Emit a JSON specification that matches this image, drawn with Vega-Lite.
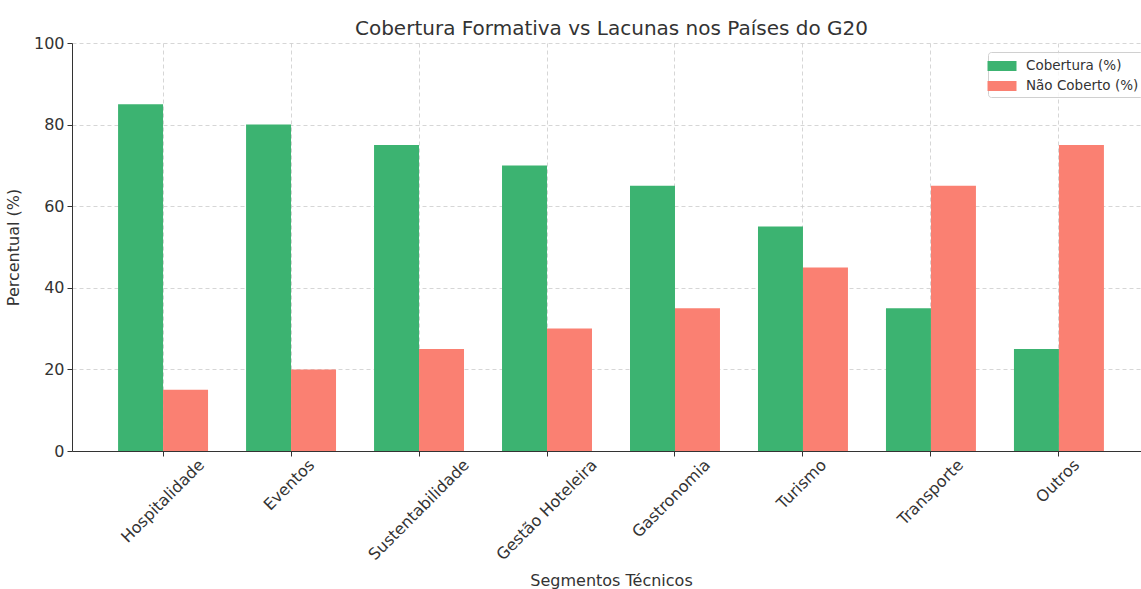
{
  "$schema": "https://vega.github.io/schema/vega-lite/v6.json",
  "width": 1069,
  "height": 408,
  "autosize": {"type": "none"},
  "padding": {"left": 72, "top": 43, "right": 0, "bottom": 138},
  "background": "white",
  "config": {
    "view": {"stroke": null},
    "font": "DejaVu Sans",
    "axis": {
      "labelFont": "DejaVu Sans",
      "titleFont": "DejaVu Sans",
      "labelColor": "#333333",
      "titleColor": "#333333",
      "domainColor": "#333333",
      "tickColor": "#333333",
      "gridColor": "#cccccc",
      "gridDash": [4, 3],
      "gridWidth": 0.8,
      "tickSize": 5,
      "labelFontSize": 16,
      "titleFontSize": 16,
      "titleFontWeight": "normal"
    }
  },
  "title": {
    "text": "Cobertura Formativa vs Lacunas nos Países do G20",
    "fontSize": 20,
    "fontWeight": "normal",
    "color": "#333333",
    "font": "DejaVu Sans",
    "anchor": "middle",
    "offset": -4,
    "dx": 5
  },
  "data": {
    "values": [
      {"segmento": "Hospitalidade", "serie": "Cobertura (%)", "valor": 85},
      {"segmento": "Hospitalidade", "serie": "Não Coberto (%)", "valor": 15},
      {"segmento": "Eventos", "serie": "Cobertura (%)", "valor": 80},
      {"segmento": "Eventos", "serie": "Não Coberto (%)", "valor": 20},
      {"segmento": "Sustentabilidade", "serie": "Cobertura (%)", "valor": 75},
      {"segmento": "Sustentabilidade", "serie": "Não Coberto (%)", "valor": 25},
      {"segmento": "Gestão Hoteleira", "serie": "Cobertura (%)", "valor": 70},
      {"segmento": "Gestão Hoteleira", "serie": "Não Coberto (%)", "valor": 30},
      {"segmento": "Gastronomia", "serie": "Cobertura (%)", "valor": 65},
      {"segmento": "Gastronomia", "serie": "Não Coberto (%)", "valor": 35},
      {"segmento": "Turismo", "serie": "Cobertura (%)", "valor": 55},
      {"segmento": "Turismo", "serie": "Não Coberto (%)", "valor": 45},
      {"segmento": "Transporte", "serie": "Cobertura (%)", "valor": 35},
      {"segmento": "Transporte", "serie": "Não Coberto (%)", "valor": 65},
      {"segmento": "Outros", "serie": "Cobertura (%)", "valor": 25},
      {"segmento": "Outros", "serie": "Não Coberto (%)", "valor": 75}
    ]
  },
  "mark": {"type": "bar"},
  "encoding": {
    "x": {
      "field": "segmento",
      "type": "nominal",
      "sort": ["Hospitalidade", "Eventos", "Sustentabilidade", "Gestão Hoteleira", "Gastronomia", "Turismo", "Transporte", "Outros"],
      "scale": {"range": [0, 1078], "paddingInner": 0.297, "paddingOuter": 0.36},
      "axis": {
        "title": "Segmentos Técnicos",
        "labelAngle": -45,
        "labelAlign": "right",
        "labelBaseline": "middle",
        "labelPadding": 6,
        "titlePadding": 10,
        "grid": true,
        "encoding": {
          "labels": {
            "dx": {"value": {"expr": "2.1*length(datum.label)"}},
            "dy": {"value": {"expr": "2.1*length(datum.label)"}}
          }
        }
      }
    },
    "xOffset": {"field": "serie", "type": "nominal", "sort": ["Cobertura (%)", "Não Coberto (%)"]},
    "y": {
      "field": "valor",
      "type": "quantitative",
      "scale": {"domain": [0, 100], "nice": false},
      "axis": {
        "title": "Percentual (%)",
        "values": [0, 20, 40, 60, 80, 100],
        "labelPadding": 3,
        "titlePadding": 12,
        "grid": true
      }
    },
    "color": {
      "field": "serie",
      "type": "nominal",
      "sort": ["Cobertura (%)", "Não Coberto (%)"],
      "scale": {"range": ["#3CB371", "#FA8072"]},
      "legend": {
        "title": null,
        "orient": "none",
        "legendX": 916,
        "legendY": 9,
        "labelFont": "DejaVu Sans",
        "labelFontSize": 13.5,
        "labelColor": "#333333",
        "symbolType": "M-1.45,-0.5H1.45V0.5H-1.45Z",
        "symbolSize": 400,
        "symbolStrokeWidth": 0,
        "symbolOpacity": 1,
        "rowPadding": 3,
        "labelOffset": 14,
        "padding": 4,
        "strokeColor": "#d0d0d0",
        "fillColor": "rgba(255,255,255,0.8)",
        "cornerRadius": 3
      }
    }
  }
}
